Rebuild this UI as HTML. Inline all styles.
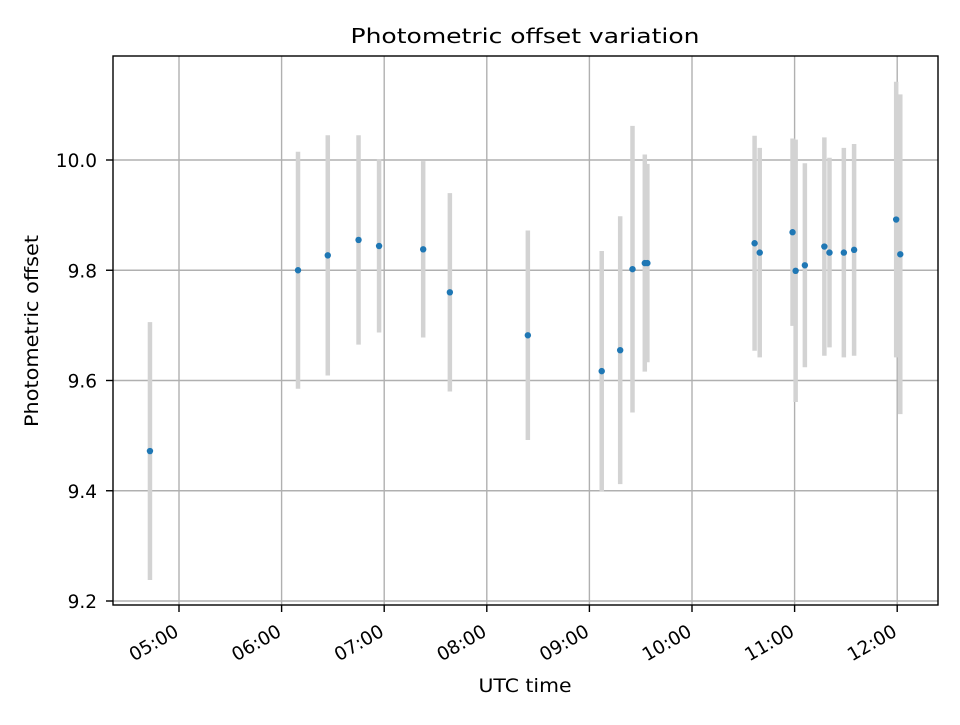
<!DOCTYPE html>
<html><head><meta charset="utf-8"><style>
body{margin:0;background:#fff}
svg text{font-family:"DejaVu Sans","Liberation Sans",sans-serif;fill:#000}
</style></head><body>
<svg id="chart" width="960" height="720" xmlns="http://www.w3.org/2000/svg">
<rect width="960" height="720" fill="#fff"/>
<g id="grid"></g>
<g id="errs"></g>
<g id="pts"></g>
<rect x="113" y="56" width="825" height="549" fill="none" stroke="#000" stroke-width="1.4"/>
<g id="ticks"></g>
<text x="525" y="43" font-size="20" text-anchor="middle" textLength="349" lengthAdjust="spacingAndGlyphs">Photometric offset variation</text>
<text x="525" y="692" font-size="19" text-anchor="middle" textLength="93" lengthAdjust="spacingAndGlyphs">UTC time</text>
<text transform="translate(38,331) rotate(-90)" font-size="19" text-anchor="middle" textLength="192" lengthAdjust="spacingAndGlyphs">Photometric offset</text>
</svg>
<script>
const times=[4.717,6.16,6.45,6.75,6.95,7.38,7.64,8.40,9.12,9.30,9.42,9.54,9.565,10.61,10.66,10.98,11.01,11.10,11.29,11.34,11.48,11.58,11.99,12.03];
const values=[9.472,9.80,9.827,9.855,9.844,9.838,9.76,9.682,9.617,9.655,9.802,9.813,9.813,9.849,9.832,9.869,9.799,9.809,9.843,9.832,9.832,9.837,9.892,9.829];
const errors=[0.234,0.215,0.218,0.19,0.157,0.16,0.18,0.19,0.218,0.243,0.26,0.197,0.18,0.195,0.19,0.17,0.238,0.185,0.198,0.172,0.19,0.192,0.25,0.29];
const yTicks=[9.2,9.4,9.6,9.8,10.0];
const xTicks=[5,6,7,8,9,10,11,12];
const xTickLabels=["05:00","06:00","07:00","08:00","09:00","10:00","11:00","12:00"];
const X=h=>179+(h-5)*102.6;
const Y=v=>160+(10-v)*551.25;
const NS="http://www.w3.org/2000/svg";
function mk(tag,attrs,parent){const e=document.createElementNS(NS,tag);for(const k in attrs)e.setAttribute(k,attrs[k]);document.getElementById(parent).appendChild(e);return e;}
yTicks.forEach((v,i)=>{
 const g=mk('line',{x1:113,x2:938,y1:Y(v),y2:Y(v),stroke:'#b0b0b0','stroke-width':1.4},'grid');
 
 
 const t=mk('line',{x1:106,x2:113,y1:Y(v),y2:Y(v),stroke:'#000','stroke-width':1.4},'ticks');
 
 
 const l=mk('text',{x:97,y:Y(v)+7,'font-size':18.5,'text-anchor':'end'},'ticks');
 l.textContent=v.toFixed(1);
 
 
});
xTicks.forEach((h,i)=>{
 const g=mk('line',{x1:X(h),x2:X(h),y1:56,y2:605,stroke:'#b0b0b0','stroke-width':1.4},'grid');
 
 
 const t=mk('line',{x1:X(h),x2:X(h),y1:605,y2:612,stroke:'#000','stroke-width':1.4},'ticks');
 
 
 const l=mk('text',{transform:`translate(${X(h)+1},${635}) rotate(-30)`,'font-size':18.5,'text-anchor':'end'},'ticks');
 l.textContent=xTickLabels[i];
 
 
});
times.forEach((h,i)=>{
 const e=mk('line',{x1:X(h),x2:X(h),y1:Y(values[i]+errors[i]),y2:Y(values[i]-errors[i]),stroke:'#d3d3d3','stroke-width':4.5},'errs');
 
 
});
times.forEach((h,i)=>{
 const c=mk('circle',{cx:X(h),cy:Y(values[i]),r:3.2,fill:'#1f77b4'},'pts');
 
 
});
</script>
</body></html>
